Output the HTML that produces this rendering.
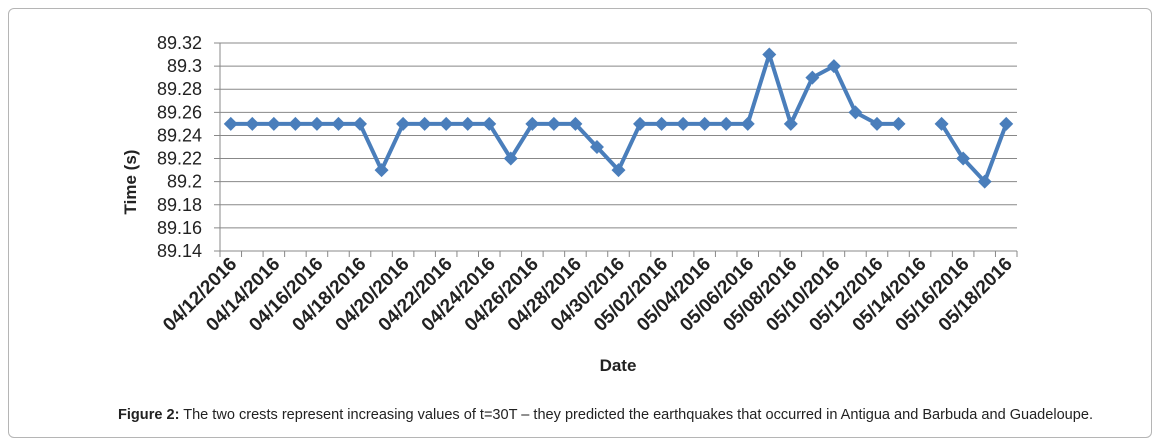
<!DOCTYPE html>
<html><head><meta charset="utf-8"><style>
body{margin:0;background:#fff;}
#frame{position:absolute;left:8px;top:8px;width:1142px;height:428px;border:1px solid #b5b5b5;border-radius:6px;}
svg{position:absolute;left:0;top:0;}
</style></head><body>
<div id="frame"></div>
<svg id="chart" width="1160" height="443" font-family="'Liberation Sans', sans-serif"></svg>
<script>
const dates=["04/12/2016","04/13/2016","04/14/2016","04/15/2016","04/16/2016","04/17/2016","04/18/2016","04/19/2016","04/20/2016","04/21/2016","04/22/2016","04/23/2016","04/24/2016","04/25/2016","04/26/2016","04/27/2016","04/28/2016","04/29/2016","04/30/2016","05/01/2016","05/02/2016","05/03/2016","05/04/2016","05/05/2016","05/06/2016","05/07/2016","05/08/2016","05/09/2016","05/10/2016","05/11/2016","05/12/2016","05/13/2016","05/14/2016","05/15/2016","05/16/2016","05/17/2016","05/18/2016"];
const times=[89.25,89.25,89.25,89.25,89.25,89.25,89.25,89.21,89.25,89.25,89.25,89.25,89.25,89.22,89.25,89.25,89.25,89.23,89.21,89.25,89.25,89.25,89.25,89.25,89.25,89.31,89.25,89.29,89.30,89.26,89.25,89.25,null,89.25,89.22,89.20,89.25];
const yTicks=["89.14","89.16","89.18","89.2","89.22","89.24","89.26","89.28","89.3","89.32"];
const svg=document.getElementById('chart');const NS='http://www.w3.org/2000/svg';
const L=220,R=1017,T=43,B=251,ymin=89.14,ymax=89.32;
const step=(R-L)/dates.length;
const x=i=>L+step*(i+0.5);
const y=v=>B-(v-ymin)/(ymax-ymin)*(B-T);
function mk(t,a){const e=document.createElementNS(NS,t);for(const k in a)e.setAttribute(k,a[k]);svg.appendChild(e);return e;}
yTicks.forEach(t=>{const v=parseFloat(t);
 const g=mk('line',{x1:L-6,x2:R,y1:y(v),y2:y(v),stroke:'#888','stroke-width':1});
 
 
 const tx=mk('text',{x:202,y:y(v)+6,'text-anchor':'end','font-size':18,fill:'#222'});tx.textContent=t;
 
 });
const ax=mk('line',{x1:L,x2:L,y1:T,y2:B+6,stroke:'#888'});


for(let i=0;i<=dates.length;i++){const tk=mk('line',{x1:L+step*i,x2:L+step*i,y1:B,y2:B+6,stroke:'#888'});
 
 }
dates.forEach((d,i)=>{if(i%2)return;const px=x(i)+7,py=B+14;
 const t=mk('text',{x:px,y:py,'text-anchor':'end','font-size':19,'font-weight':'bold',fill:'#222',transform:`rotate(-45 ${px} ${py})`});t.textContent=d;
 
 });
let segs=[],cur=[];times.forEach((v,i)=>{if(v===null){if(cur.length)segs.push(cur);cur=[];}else cur.push(x(i)+','+y(v));});if(cur.length)segs.push(cur);
segs.forEach(s=>{const p=mk('polyline',{points:s.join(' '),fill:'none',stroke:'#4a7ebb','stroke-width':4,'stroke-linejoin':'round'});
 
 });
times.forEach((v,i)=>{if(v===null)return;const cx=x(i),cy=y(v),r=7;
 const m=mk('polygon',{points:`${cx},${cy-r} ${cx+r},${cy} ${cx},${cy+r} ${cx-r},${cy}`,fill:'#4a7ebb'});
 
 });
const yt=mk('text',{x:136,y:182,'text-anchor':'middle','font-size':17,'font-weight':'bold',fill:'#222',transform:'rotate(-90 136 182)'});yt.textContent='Time (s)';


const xt=mk('text',{x:618,y:371,'text-anchor':'middle','font-size':17,'font-weight':'bold',fill:'#222'});xt.textContent='Date';


const cap=mk('text',{x:118,y:419,'font-size':15,fill:'#222',textLength:975,lengthAdjust:'spacingAndGlyphs'});
cap.innerHTML='<tspan font-weight="bold">Figure 2:</tspan> The two crests represent increasing values of t=30T – they predicted the earthquakes that occurred in Antigua and Barbuda and Guadeloupe.';


</script>
</body></html>
